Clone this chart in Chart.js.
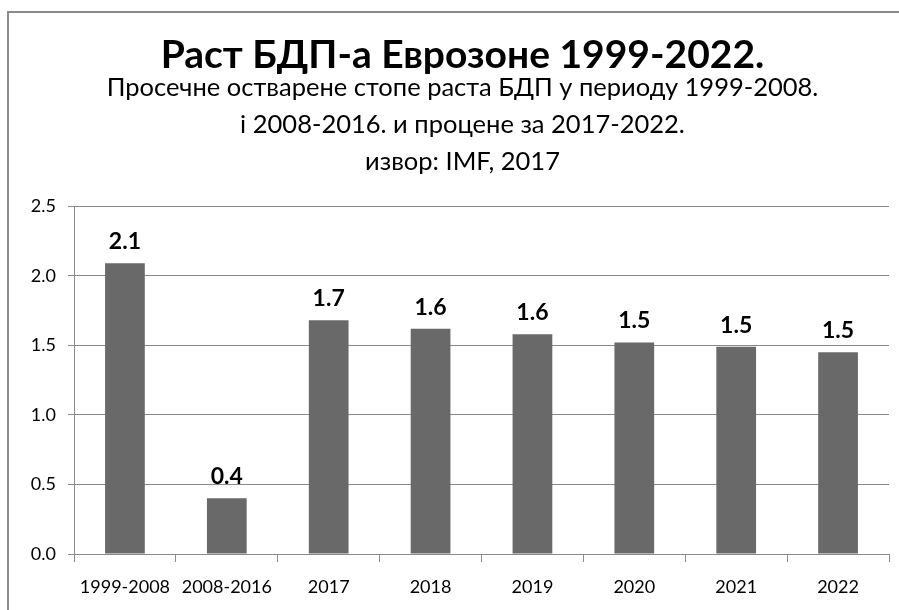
<!DOCTYPE html>
<html>
<head>
<meta charset="utf-8">
<script src="https://cdn.jsdelivr.net/npm/chart.js@4"></script>
<style>
  body { margin: 0; background: #fff; }
  #wrap { position: relative; width: 899px; height: 610px; overflow: hidden; }
  #frame { position: absolute; left: 7px; top: 11px; width: 1000px; height: 1000px; border: 2px solid #8a8a8a; }
  canvas { position: absolute; left: 0; top: 0; }
</style>
</head>
<body>
<div id="wrap">
  <div id="frame"></div>
  <canvas id="chart" width="899" height="610"></canvas>
</div>
<script>
  const FONT = "Lato, 'Open Sans', sans-serif";

  const titleText = "Раст БДП-а Еврозоне 1999-2022.";
  const subtitleLines = [
    "Просечне остварене стопе раста БДП у периоду 1999-2008.",
    "і 2008-2016. и процене за 2017-2022.",
    "извор: IMF, 2017",
  ];

  const categories = ["1999-2008", "2008-2016", "2017", "2018", "2019", "2020", "2021", "2022"];
  const growth = [2.09, 0.40, 1.68, 1.62, 1.58, 1.52, 1.49, 1.45];
  const yTicks = [0, 0.5, 1.0, 1.5, 2.0, 2.5];

  // value labels above bars
  const barLabels = {
    id: "barLabels",
    afterDatasetsDraw(chart) {
      const ctx = chart.ctx;
      const meta = chart.getDatasetMeta(0);
      ctx.save();
      ctx.font = "bold 23px " + FONT;
      ctx.fillStyle = "#000";
      ctx.textAlign = "center";
      ctx.textBaseline = "bottom";
      meta.data.forEach((bar, i) => {
        ctx.fillText((growth[i] + 1e-9).toFixed(1), bar.x, bar.y - 10);
      });
      ctx.restore();
    },
  };

  // left padding only shifts the titles; let the y labels use that room
  const widenYAxis = {
    id: "widenYAxis",
    afterLayout(chart) {
      chart.scales.y.left = 0;
    },
  };

  new Chart(document.getElementById("chart"), {
    type: "bar",
    data: {
      labels: categories,
      datasets: [
        {
          data: growth,
          backgroundColor: "#696969",
          borderWidth: 0,
          barPercentage: 0.39,
          categoryPercentage: 1.0,
        },
      ],
    },
    options: {
      responsive: false,
      animation: false,
      layout: {
        padding: { left: 36, right: 10, top: 42, bottom: 0 },
      },
      plugins: {
        legend: { display: false },
        tooltip: { enabled: false },
        title: {
          display: true,
          text: titleText,
          color: "#000",
          font: { family: FONT, size: 39, weight: "bold", lineHeight: 0.7 },
          padding: { top: 0, bottom: 0 },
        },
        subtitle: {
          display: true,
          text: subtitleLines,
          color: "#000",
          font: { family: FONT, size: 25.5, lineHeight: 1.45 },
          padding: { top: 0, bottom: 26 },
        },
      },
      scales: {
        x: {
          afterFit(scale) {
            scale.height = 56;
          },
          grid: {
            display: true,
            drawOnChartArea: false,
            drawTicks: true,
            tickLength: 8,
            color: "#8a8a8a",
            offset: true,
          },
          border: { display: true, color: "#8a8a8a" },
          ticks: {
            color: "#000",
            font: { family: FONT, size: 18 },
            padding: 14,
            maxRotation: 0,
          },
        },
        y: {
          min: 0,
          max: 2.5,
          afterBuildTicks(scale) {
            scale.ticks = yTicks.map((v) => ({ value: v }));
          },
          afterFit(scale) {
            scale.width = 38;
          },
          grid: {
            color: "#8a8a8a",
            tickLength: 6,
          },
          border: { display: true, color: "#8a8a8a" },
          ticks: {
            color: "#000",
            font: { family: FONT, size: 18 },
            padding: 12,
            callback: (v) => Number(v).toFixed(1),
          },
        },
      },
    },
    plugins: [barLabels, widenYAxis],
  });
</script>
</body>
</html>
